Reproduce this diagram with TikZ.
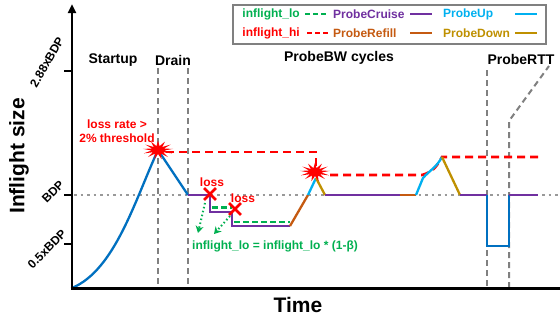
\documentclass[tikz,border=0pt]{standalone}
\usepackage{fontspec}
\usepackage{graphicx}
\setmainfont{Liberation Sans}
\usetikzlibrary{shapes.geometric,shapes.misc,arrows.meta}
\definecolor{cblue}{HTML}{0070C0}
\definecolor{cpurple}{HTML}{7030A0}
\definecolor{ccyan}{HTML}{00B0F0}
\definecolor{corange}{HTML}{C55A11}
\definecolor{cgold}{HTML}{BF9000}
\definecolor{cgreen}{HTML}{00B050}
\definecolor{cred}{HTML}{FF0000}
\definecolor{cgray}{HTML}{808080}
\begin{document}
\begin{tikzpicture}[x=1pt,y=1pt,
  every node/.style={inner sep=0pt},
  big/.style={font=\fontsize{21}{24}\selectfont\bfseries},
  lbl/.style={font=\fontsize{14}{16}\selectfont\bfseries},
  sml/.style={font=\fontsize{12}{14}\selectfont\bfseries},
  vdash/.style={draw=cgray, line width=2pt, dash pattern=on 6pt off 4pt},
  bdpdot/.style={draw=cgray!80, line width=2pt, dash pattern=on 2.5pt off 4pt},
  hi/.style={draw=cred, line width=2.6pt, dash pattern=on 8pt off 5pt},
  lo/.style={draw=cgreen, line width=2.6pt, dash pattern=on 6pt off 3pt},
  seg/.style={line width=2.3pt},
  burst/.style={star, star points=13, star point ratio=2.4, fill=cred, minimum size=19pt, xscale=1.6, transform shape},
  lossx/.style={cross out, draw=cred, line width=2.8pt, minimum size=9pt},
  hint/.style={draw=cgreen, line width=2pt, dash pattern=on 1.5pt off 2.5pt, -{Stealth[length=7pt,width=8pt]}}
]
\useasboundingbox[fill=white] (0,0) rectangle (560,-322);

% key points
\coordinate (o) at (72,-288);
\coordinate (peak) at (158,-150);
\coordinate (d1) at (188,-195);
\coordinate (l1) at (210,-195);
\coordinate (l1b) at (210,-212);
\coordinate (l2) at (232,-212);
\coordinate (l2b) at (232,-226);
\coordinate (r0) at (290,-226);
\coordinate (u0) at (308,-195);
\coordinate (u1) at (316,-178);
\coordinate (c0) at (325,-195);
\coordinate (c1) at (400,-195);
\coordinate (u2) at (416,-195);
\coordinate (u3) at (423,-178);
\coordinate (u4) at (442,-157);
\coordinate (c2) at (460,-195);
\coordinate (t0) at (487,-195);
\coordinate (t1) at (487,-246);
\coordinate (t2) at (509,-246);
\coordinate (t3) at (509,-195);
\coordinate (c3) at (538,-195);

% BDP dotted line
\draw[bdpdot] (74,-195) -- (560,-195);

% phase separators
\draw[vdash] (158,-68) -- (158,-288);
\draw[vdash] (188,-68) -- (188,-288);
\draw[vdash] (487,-70) -- (487,-288);
\draw[vdash] (509,-288) -- (509,-121) -- (549,-66);

% inflight_hi
\draw[hi] (166,-152) -- (316,-152) -- (316,-166);
\draw[hi] (330,-175) -- (422,-175) .. controls (432,-172) and (436,-168) .. (442,-157) -- (540,-157);

% inflight_lo
\draw[lo] (212,-207.5) -- (232,-207.5);
\draw[lo] (234,-222) -- (290,-222);

% startup & drain
\draw[cblue, seg] (o) .. controls (115,-270) and (135,-200) .. (peak) -- (d1);
% probe BW
\draw[cpurple, seg] (d1) -- (l1) -- (l1b) -- (l2) -- (l2b) -- (r0);
\draw[corange, seg] (r0) -- (u0);
\draw[ccyan, seg] (u0) -- (u1);
\draw[cgold, seg] (u1) -- (c0);
\draw[cpurple, seg] (c0) -- (c1);
\draw[corange, seg] (c1) -- (u2);
\draw[ccyan, seg] (u2) -- (u3) .. controls (430,-170) and (436,-168) .. (u4);
\draw[cgold, seg] (u4) -- (c2);
\draw[cpurple, seg] (c2) -- (t0);
\draw[cblue, seg] (t0) -- (t1) -- (t2) -- (t3);
\draw[cpurple, seg] (t3) -- (c3);

% axes
\draw[line width=2.6pt, -{Triangle[length=9pt,width=8pt]}] (72,-289.5) -- (72,-4);
\draw[line width=3pt] (70.7,-288) -- (560,-288);
\draw[line width=2.2pt] (64,-71) -- (72,-71);
\draw[line width=2.2pt] (64,-195) -- (72,-195);
\draw[line width=2.2pt] (64,-244) -- (72,-244);

% axis labels
\node[sml] (tk1) at (47,-62) {\rotatebox{60}{2.88xBDP}};
\node[sml] (tk2) at (53,-192) {\rotatebox{45}{BDP}};
\node[sml] (tk3) at (47,-249) {\rotatebox{45}{0.5xBDP}};
\node[big] (ylab) at (19,-156) {\rotatebox{90}{Inflight size}};
\node[big] (xlab) at (298,-305) {Time};

% phase labels
\node[lbl] (st) at (113,-60) {Startup};
\node[lbl] (dr) at (173,-60) {Drain};
\node[lbl] (bw) at (339,-58) {ProbeBW cycles};
\node[lbl] (rtt) at (521,-59) {ProbeRTT};

% loss annotations
\node[text=cred, align=center, font=\fontsize{12}{13.5}\selectfont\bfseries] (lr) at (117,-131) {loss rate >\\2\% threshold};
\node[burst] (b1) at (peak) {};
\node[burst] (b2) at (315,-172) {};
\node[lossx] (x1) at (210,-194) {};
\node[lossx] (x2) at (235,-209) {};
\node[sml, text=cred] (ls1) at (212,-182) {loss};
\node[sml, text=cred] (ls2) at (243,-198) {loss};
\coordinate (h1) at (198,-233);
\coordinate (h2) at (214,-234);
\coordinate (s1) at (205,-203);
\coordinate (s2) at (230,-216);
\draw[hint] (s1) -- (h1);
\draw[hint] (s2) -- (h2);
\node[sml, text=cgreen, anchor=west] (eq) at (192,-246) {inflight\_lo = inflight\_lo * (1-β)};

% legend
\node[draw=cgray, line width=1.5pt, minimum width=313pt, minimum height=39pt, anchor=north west] (leg) at (232,-4) {};
\node[sml, text=cgreen, anchor=east] (k1) at (300,-14) {inflight\_lo};
\node[sml, text=cred, anchor=east] (k2) at (300,-33) {inflight\_hi};
\node[sml, text=cpurple, anchor=west] (k3) at (333,-14) {ProbeCruise};
\node[sml, text=corange, anchor=west] (k4) at (333,-33) {ProbeRefill};
\node[sml, text=ccyan, anchor=west] (k5) at (443,-14) {ProbeUp};
\node[sml, text=cgold, anchor=west] (k6) at (443,-33) {ProbeDown};
\draw[cgreen, line width=2pt, dash pattern=on 5pt off 3pt] (k1.east) ++(5,0) -- ++(22,0);
\draw[cred, line width=2pt, dash pattern=on 5pt off 3pt] (k2.east) ++(7,0) -- ++(22,0);
\draw[cpurple, line width=2pt] (410,-14) -- (432,-14);
\draw[corange, line width=2pt] (410,-33) -- (432,-33);
\draw[ccyan, line width=2pt] (515,-14) -- (537,-14);
\draw[cgold, line width=2pt] (515,-33) -- (537,-33);
\end{tikzpicture}
\end{document}
